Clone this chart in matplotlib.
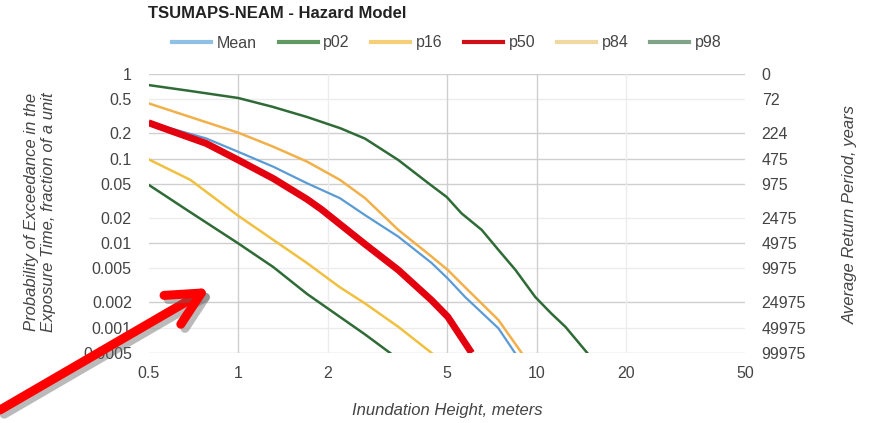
import matplotlib
matplotlib.use("Agg")
import matplotlib.pyplot as plt
import matplotlib.patheffects as pe
from matplotlib.lines import Line2D
from matplotlib.patches import FancyArrowPatch

plt.rcParams['font.family'] = ['Liberation Sans', 'DejaVu Sans']

# ---- data ----
mean_x = [0.5, 0.78, 1.0, 1.31, 1.7, 2.19, 2.66, 3.44, 4.45, 5.04, 5.76, 7.45, 8.47]
mean_y = [0.27, 0.173, 0.12, 0.080, 0.051, 0.034, 0.0214, 0.0119, 0.0058, 0.0038, 0.0023, 0.00098, 0.0005]

p02_x = [0.5, 0.68, 1.0, 1.31, 1.7, 2.19, 2.66, 3.23]
p02_y = [0.049, 0.024, 0.0099, 0.0052, 0.0025, 0.00134, 0.00083, 0.0005]

p16_x = [0.5, 0.69, 1.0, 1.31, 1.7, 2.19, 2.66, 3.44, 4.45]
p16_y = [0.098, 0.056, 0.021, 0.0109, 0.0058, 0.0030, 0.00193, 0.00102, 0.0005]

p50_x = [0.5, 0.6, 0.78, 1.0, 1.31, 1.7, 1.9, 2.66, 3.44, 4.45, 5.04, 6.06]
p50_y = [0.265, 0.21, 0.151, 0.096, 0.058, 0.033, 0.025, 0.0097, 0.0048, 0.0021, 0.00134, 0.0005]

p84_x = [0.5, 1.0, 1.31, 1.7, 2.19, 2.66, 3.44, 4.45, 5.04, 5.76, 7.45, 8.92]
p84_y = [0.45, 0.202, 0.138, 0.092, 0.056, 0.034, 0.0143, 0.0069, 0.0048, 0.0030, 0.00123, 0.0005]

p98_x = [0.5, 0.69, 1.0, 1.3, 1.7, 2.2, 2.66, 3.44, 4.34, 5.0, 5.6, 6.55, 7.45, 8.5, 9.9, 11.2, 12.5, 14.8]
p98_y = [0.74, 0.63, 0.52, 0.41, 0.31, 0.228, 0.172, 0.096, 0.051, 0.035, 0.0225, 0.0143, 0.0083, 0.0048, 0.0023, 0.00147, 0.00102, 0.0005]

x_ticks = [0.5, 1, 2, 5, 10, 20, 50]
x_tick_labels = ["0.5", "1", "2", "5", "10", "20", "50"]
y_ticks = [1, 0.5, 0.2, 0.1, 0.05, 0.02, 0.01, 0.005, 0.002, 0.001, 0.0005]
y_tick_labels = ["1", "0.5", "0.2", "0.1", "0.05", "0.02", "0.01", "0.005", "0.002", "0.001", "0.0005"]
rp_tick_labels = ["0", "72", "224", "475", "975", "2475", "4975", "9975", "24975", "49975", "99975"]

# ---- figure ----
W, H = 874, 423
fig = plt.figure(figsize=(W / 100, H / 100), dpi=100)
L, R, T, B = 148.5, 745, 74, 353
ax = fig.add_axes([L / W, 1 - B / H, (R - L) / W, (B - T) / H])
ax.set_xscale('log')
ax.set_yscale('log')
ax.set_xlim(0.5, 50)
ax.set_ylim(0.0005, 1)

# gridlines
dark_y = [1, 0.2, 0.1, 0.05, 0.01, 0.002, 0.0005]
for yv in y_ticks:
    ax.axhline(yv, color='#cfcfcf' if yv in dark_y else '#ececec', lw=1, zorder=0)
for xv in [1, 5, 10]:
    ax.axvline(xv, color='#cfcfcf', lw=1, zorder=0)
for xv in [2, 20]:
    ax.axvline(xv, color='#ececec', lw=1, zorder=0)

c_mean = '#5b9bd5'
c_green = '#2f6b36'
c_p16 = '#f0c040'
c_p84 = '#f2b04a'
c_red = '#e3000f'

ax.plot(p98_x, p98_y, color=c_green, lw=1.8, zorder=3)
ax.plot(p84_x, p84_y, color=c_p84, lw=1.8, zorder=3)
ax.plot(mean_x, mean_y, color=c_mean, lw=1.6, zorder=4)
ax.plot(p50_x, p50_y, color=c_red, lw=5, zorder=5, solid_capstyle='butt', solid_joinstyle='round')
ax.plot(p16_x, p16_y, color=c_p16, lw=1.8, zorder=3)
ax.plot(p02_x, p02_y, color=c_green, lw=1.8, zorder=3)

FS = 11.5
ax.set_xticks(x_ticks)
ax.set_xticklabels(x_tick_labels)
ax.set_yticks(y_ticks)
ax.set_yticklabels(y_tick_labels)
ax.minorticks_off()
ax.tick_params(axis='both', length=0, labelsize=FS, labelcolor='#444444')
ax.tick_params(axis='x', pad=9)
ax.tick_params(axis='y', pad=12)
for s in ax.spines.values():
    s.set_visible(False)

ax2 = ax.twinx()
ax2.set_yscale('log')
ax2.set_ylim(0.0005, 1)
ax2.set_yticks(y_ticks)
ax2.set_yticklabels(rp_tick_labels)
ax2.minorticks_off()
ax2.tick_params(axis='y', length=0, labelsize=FS, labelcolor='#444444', pad=12)
for s in ax2.spines.values():
    s.set_visible(False)

fig.text(447 / W, 1 - 410 / H, "Inundation Height, meters", ha='center', va='center',
         fontsize=12, style='italic', color='#444444')
fig.text(40 / W, 1 - 212 / H, "Probability of Exceedance in the\nExposure Time, fraction of a unit",
         rotation=90, ha='center', va='center', fontsize=12, style='italic', color='#444444',
         linespacing=1.1)
fig.text(850 / W, 1 - 214 / H, "Average Return Period, years", rotation=90, ha='center', va='center',
         fontsize=12, style='italic', color='#444444')

fig.text(L / W, 1 - 14 / H, "TSUMAPS-NEAM - Hazard Model", ha='left', va='center',
         fontsize=12, fontweight='bold', color='#222222')

handles = [
    Line2D([], [], color='#8fc1e6', lw=3),
    Line2D([], [], color='#5e9a62', lw=3),
    Line2D([], [], color='#f5cf78', lw=3),
    Line2D([], [], color='#d01018', lw=3),
    Line2D([], [], color='#f0d9a0', lw=3),
    Line2D([], [], color='#7fa487', lw=3),
]
fig.legend(handles, ["Mean", "p02", "p16", "p50", "p84", "p98"], loc='center',
           bbox_to_anchor=(447 / W, 1 - 43 / H), ncol=6, frameon=False, fontsize=FS,
           handlelength=2.45, handletextpad=0.35, columnspacing=1.35, labelcolor='#444444')

# red arrow annotation overlay
ann = FancyArrowPatch(
    (0 / W, 1 - 410 / H), (210 / W, 1 - 288 / H), transform=fig.transFigure,
    arrowstyle='->,head_length=24,head_width=12', mutation_scale=1,
    color='#ff0000', lw=6.5, capstyle='round', joinstyle='round', zorder=10,
    shrinkA=0, shrinkB=0,
    path_effects=[pe.SimpleLineShadow(offset=(3, -3), shadow_color='#666666', alpha=0.45), pe.Normal()])
ann.set_clip_on(False)
fig.add_artist(ann)

fig.savefig("out.png", dpi=100)
